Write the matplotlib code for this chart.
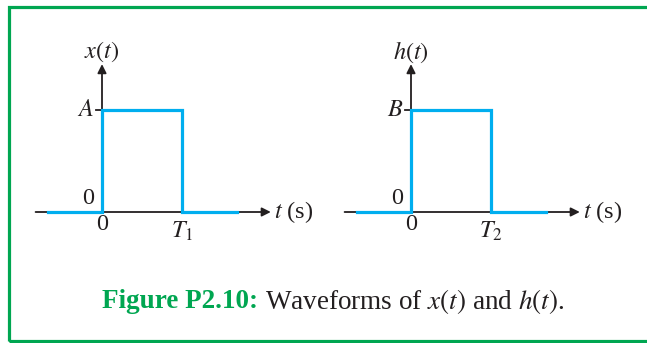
import matplotlib as mpl
mpl.use('Agg')
import matplotlib.pyplot as plt
import matplotlib.patches as patches
from matplotlib.offsetbox import TextArea, HPacker, AnnotationBbox

# pulse waveforms (amplitude and duration normalised to 1)
PULSE_T = [-0.675, 0, 0, 1, 1, 1.69]
PULSE_V = [0, 0, 1, 1, 0, 0]

Y_LABELS = ["$x(t)$", "$h(t)$"]
LEVEL_LABELS = ["$A$", "$B$"]
END_LABELS = ["$T_1$", "$T_2$"]
CAPTION_BOLD = "Figure P2.10:"
CAPTION_TEXT = "Waveforms of $x(t)$ and $h(t)$."

BLUE = '#00aeef'
GREEN = '#00a651'
INK = '#231f20'

W, H = 647, 343
LABEL_SIZE = 17.5
CAPTION_SIZE = 19.5

plt.rcParams['font.family'] = 'Liberation Serif'
plt.rcParams['mathtext.fontset'] = 'stix'

fig = plt.figure(figsize=(W / 100, H / 100), dpi=100)

# axes placement in pixels: origin x, 80 px per time unit, 102 px per amplitude unit
XMIN, XMAX = -0.9, 2.2
YMIN, YMAX = -0.4, 1.6
SX, SY = 80.0, 102.0
BASE_Y = 212
ORIGINS = [102, 411]

for i, ox in enumerate(ORIGINS):
    left = ox + XMIN * SX
    bottom = H - (BASE_Y - YMIN * SY)
    ax = fig.add_axes([left / W, bottom / H, (XMAX - XMIN) * SX / W, (YMAX - YMIN) * SY / H])
    ax.set_xlim(XMIN, XMAX)
    ax.set_ylim(YMIN, YMAX)
    ax.axis('off')

    # axes with arrows
    ax.annotate('', xy=(2.11, 0), xytext=(-0.83, 0),
                arrowprops=dict(arrowstyle='-|>', color=INK, lw=1.3, mutation_scale=13, shrinkA=0, shrinkB=0))
    ax.annotate('', xy=(0, 1.45), xytext=(0, 0),
                arrowprops=dict(arrowstyle='-|>', color=INK, lw=1.3, mutation_scale=13, shrinkA=0, shrinkB=0))
    ax.plot([-0.08, 0], [1, 1], color=INK, lw=1.3)

    ax.plot(PULSE_T, PULSE_V, color=BLUE, lw=2.3, solid_joinstyle='miter', zorder=3)

    ax.text(0, 1.57, Y_LABELS[i], ha='center', va='center', fontsize=LABEL_SIZE, color=INK)
    ax.text(-0.1, 1, LEVEL_LABELS[i], ha='right', va='center', fontsize=LABEL_SIZE, color=INK)
    ax.text(-0.175, 0.13, "0", ha='center', va='center', fontsize=LABEL_SIZE, color=INK)
    ax.text(0, -0.12, "0", ha='center', va='center', fontsize=LABEL_SIZE, color=INK)
    ax.text(1, -0.08, END_LABELS[i], ha='center', va='top', fontsize=LABEL_SIZE, color=INK)
    ax.text(2.15, 0, "$t$ (s)", ha='left', va='center', fontsize=LABEL_SIZE, color=INK)

# caption
bold = TextArea(CAPTION_BOLD, textprops=dict(fontsize=CAPTION_SIZE, fontweight='bold', color=GREEN))
rest = TextArea(CAPTION_TEXT, textprops=dict(fontsize=CAPTION_SIZE, color=INK))
pack = HPacker(children=[bold, rest], align='baseline', pad=0, sep=5)
ab = AnnotationBbox(pack, (333 / W, 1 - 301 / H), xycoords='figure fraction',
                    frameon=False, box_alignment=(0.5, 0.5))
fig.add_artist(ab)

# green frame (open on the right edge of the crop)
frame = patches.Rectangle((8.5 / W, 2.5 / H), 1.0, (340.5 - 6.5) / H, transform=fig.transFigure,
                          fill=False, edgecolor=GREEN, lw=2.3)
fig.add_artist(frame)

plt.savefig('out.png', dpi=100)
